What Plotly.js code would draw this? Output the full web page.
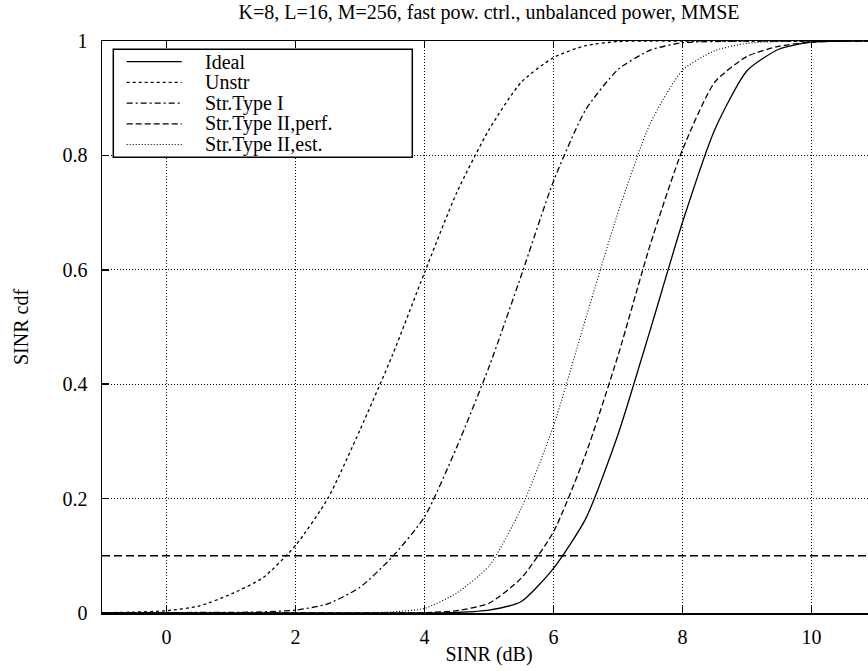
<!DOCTYPE html>
<html>
<head>
<meta charset="utf-8">
<script src="https://cdn.plot.ly/plotly-3.0.1.min.js"></script>
<style>
html, body { margin: 0; padding: 0; width: 868px; height: 671px; overflow: hidden; background: #fff; }
#chart { width: 876px; height: 671px; }
</style>
</head>
<body>
<div id="chart"></div>
<script>
// ---- data ----
const snrDb = [-1, -0.5, 0, 0.5, 1, 1.5, 2, 2.5, 3, 3.5, 4, 4.5, 5, 5.5, 6, 6.5, 7, 7.5, 8, 8.5, 9, 9.5, 10, 10.5, 11];
const ideal = [0, 0, 0, 0, 0, 0, 0, 0, 0, 0, 0, 0.001, 0.005, 0.02, 0.078, 0.165, 0.312, 0.495, 0.683, 0.845, 0.948, 0.986, 0.998, 1, 1];
const unstr = [0.0005, 0.0015, 0.004, 0.012, 0.033, 0.062, 0.118, 0.2, 0.32, 0.45, 0.595, 0.735, 0.845, 0.928, 0.971, 0.992, 0.999, 1, 1, 1, 1, 1, 1, 1, 1];
const strTypeI = [0, 0, 0.0005, 0.001, 0.001, 0.002, 0.005, 0.016, 0.045, 0.098, 0.168, 0.29, 0.43, 0.59, 0.755, 0.88, 0.95, 0.984, 0.997, 0.999, 1, 1, 1, 1, 1];
const strTypeIIPerf = [0, 0, 0, 0, 0, 0, 0, 0, 0, 0, 0.0005, 0.004, 0.017, 0.061, 0.142, 0.278, 0.45, 0.644, 0.81, 0.928, 0.973, 0.991, 0.998, 1, 1];
const strTypeIIEst = [0, 0, 0, 0, 0, 0, 0, 0, 0, 0.002, 0.008, 0.035, 0.082, 0.183, 0.327, 0.515, 0.70, 0.856, 0.949, 0.983, 0.996, 0.999, 1, 1, 1];
const seriesNames = ['Ideal', 'Unstr', 'Str.Type I', 'Str.Type II,perf.', 'Str.Type II,est.'];
const thresholdX = [-1, 11];
const thresholdY = [0.1, 0.1];
const xTicks = [0, 2, 4, 6, 8, 10];
const yTicks = [0, 0.2, 0.4, 0.6, 0.8, 1];
const yTickText = ['0', '0.2', '0.4', '0.6', '0.8', '1'];

// ---- styles ----
const FONT = 'Liberation Serif, Times New Roman, serif';
const seriesData = [ideal, unstr, strTypeI, strTypeIIPerf, strTypeIIEst];
const seriesStyle = [
  {dash: 'solid', width: 1.3},
  {dash: '3px,3px', width: 1.3},
  {dash: '6px,3px,2px,3px', width: 1.3},
  {dash: '6px,3px', width: 1.3},
  {dash: '1px,2px', width: 1.1}
];

const traces = seriesData.map((ys, i) => ({
  x: snrDb, y: ys, type: 'scatter', mode: 'lines', name: seriesNames[i],
  line: {color: '#000', dash: seriesStyle[i].dash, width: seriesStyle[i].width, shape: 'spline', smoothing: 0.6},
  showlegend: false, hoverinfo: 'skip'
}));
traces.push({
  x: thresholdX, y: thresholdY, type: 'scatter', mode: 'lines',
  line: {color: '#000', dash: '8px,4px', width: 1.4}, showlegend: false, hoverinfo: 'skip'
});

// ---- hand-built legend (box + samples + labels) ----
const legBox = {x0: 0.0146, x1: 0.4009, y0: 0.7967, y1: 0.9855};
const legRowTop = 0.9638, legRowStep = 0.0362;
const legLineX0 = 0.0319, legLineX1 = 0.1030, legTextX = 0.1310;
const shapes = [{
  type: 'rect', xref: 'paper', yref: 'paper', x0: legBox.x0, x1: legBox.x1, y0: legBox.y0, y1: legBox.y1,
  line: {color: '#000', width: 1.5}, fillcolor: '#fff', layer: 'above'
}];
const annotations = [];
seriesNames.forEach((nm, i) => {
  const yy = legRowTop - i * legRowStep;
  shapes.push({type: 'line', xref: 'paper', yref: 'paper', x0: legLineX0, x1: legLineX1, y0: yy, y1: yy,
    line: {color: '#000', dash: seriesStyle[i].dash, width: seriesStyle[i].width}, layer: 'above'});
  annotations.push({xref: 'paper', yref: 'paper', x: legTextX, y: yy, xanchor: 'left', yanchor: 'middle',
    text: nm, showarrow: false, font: {family: FONT, size: 20, color: '#000'}});
});

const axisCommon = {
  showline: true, linecolor: '#000', linewidth: 1.5, mirror: 'ticks',
  ticks: 'inside', ticklen: 7, tickwidth: 1.5, tickcolor: '#000',
  showgrid: true, gridcolor: '#000', gridwidth: 1, griddash: '1px,2px',
  zeroline: false, tickfont: {family: FONT, size: 20, color: '#000'}
};

const layout = {
  width: 876, height: 671,
  margin: {l: 102, r: 0, t: 41, b: 58},
  paper_bgcolor: '#fff', plot_bgcolor: '#fff',
  showlegend: false,
  title: {text: 'K=8, L=16, M=256, fast pow. ctrl., unbalanced power, MMSE',
    font: {family: FONT, size: 20, color: '#000'},
    xref: 'paper', x: 0.5, xanchor: 'center', yref: 'container', y: 0.992, yanchor: 'top'},
  xaxis: Object.assign({}, axisCommon, {
    range: [-1, 11], tickvals: xTicks, ticklabelstandoff: 5,
    title: {text: 'SINR (dB)', font: {family: FONT, size: 20, color: '#000'}, standoff: 0}
  }),
  yaxis: Object.assign({}, axisCommon, {
    range: [0, 1], tickvals: yTicks, ticktext: yTickText, ticklabelstandoff: 9,
    title: {text: 'SINR cdf', font: {family: FONT, size: 20, color: '#000'}, standoff: 28}
  }),
  shapes: shapes,
  annotations: annotations
};

Plotly.newPlot('chart', traces, layout, {displayModeBar: false, staticPlot: true});
</script>
</body>
</html>
